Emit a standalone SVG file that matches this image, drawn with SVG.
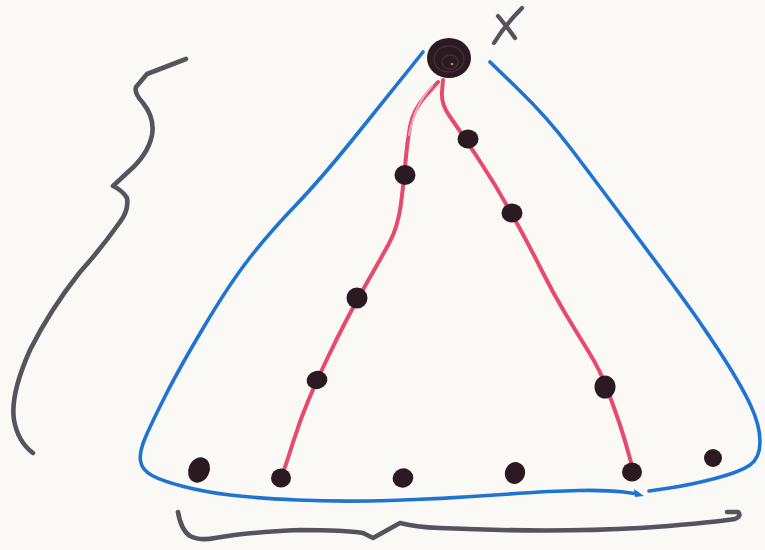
<svg xmlns="http://www.w3.org/2000/svg" width="765" height="550" viewBox="0 0 765 550">
<style>
.blue{fill:none;stroke:#1f74d2;stroke-width:3.6;stroke-linecap:round;stroke-linejoin:round}
.red{fill:none;stroke:#e84a6e;stroke-width:4;stroke-linecap:round;stroke-linejoin:round}
.faint{fill:none;stroke:#f1aabb;stroke-width:2;stroke-linecap:round}
.grey{fill:none;stroke:#58525c;stroke-width:4.6;stroke-linecap:round;stroke-linejoin:round}
.dot{fill:#2c1a22}
.ring{fill:none;stroke:#43303a;stroke-width:1.4}
</style>
<rect width="765" height="550" fill="#faf9f6"/>
<g id="outline">
<path class="blue" d="M423,52 L405,74.5 Q387,97 353.5,138.5 Q320,180 295,206 Q270,232 250,257.5 Q230,283 205,325 Q180,367 166.5,393.5 Q153,420 146,436 Q139,452 140.5,461 Q142,470 152,475.5 Q162,481 183.5,486.5 Q205,492 230,495 Q255,498 297.5,500 Q340,502 390,500.5 Q440,499 495,495 Q550,491 578.5,490.5 Q607,490 623.5,492 L638,494"/>
<polygon points="634,489 644,496 635,497" fill="#1f74d2"/>
<path class="blue" d="M649,491 L669.5,488 Q690,485 715,478.5 Q740,472 750,465 Q760,458 760,441.5 Q760,425 750,404 Q740,383 718.5,350 Q697,317 672,283.5 Q647,250 622,216.5 Q597,183 572,150 Q547,117 518.5,89.5 L490,62"/>
</g>
<g id="braces">
<path class="grey" d="M186,59 L147,74 L136,87 Q134,93 143,103 Q155,118 152,135 Q148,155 128,172 L113,186 Q122,190 127,198 Q129,210 120,222 Q100,250 80,272 Q50,310 30,350 Q10,395 14,420 Q18,442 33,453"/>
<path class="grey" d="M178,512 Q181,530 190,536 Q200,541 215,538 Q250,532 300,530 Q345,530 363,533 L373,538 L400,523 Q415,527 440,528 Q550,533 640,528 Q700,524 735,519 Q742,516 738,512 L727,512"/>
</g>
<g id="x-mark">
<path class="grey" style="stroke-width:4.2" d="M494,43 Q505,25 522,8"/>
<path class="grey" style="stroke-width:4.2" d="M498,16 Q508,28 515,38"/>
</g>
<g id="connectors">
<path class="red" d="M438,82 L425.5,96 Q413,110 410,126.5 Q407,143 405.5,161.5 Q404,180 401,203.5 Q398,227 389,243.5 Q380,260 369,279 Q358,298 347.5,318 Q337,338 327,359 Q317,380 308.5,400 Q300,420 293,442.5 Q286,465 281,478"/>
<path class="faint" d="M432,86 Q415,104 409,135"/>
<path class="red" d="M443,80 L442,92 Q441,104 449.5,116 Q458,128 477.5,157.5 Q497,187 513.5,217 Q530,247 541.5,270 Q553,293 565,313 Q577,333 588.5,351.5 Q600,370 607.5,390 Q615,410 620,425 Q625,440 629,455 L633,470"/>
</g>
<g id="node-root">
<ellipse class="dot" cx="449" cy="58" rx="22" ry="20"/>
<ellipse class="ring" cx="449" cy="59" rx="15" ry="13"/>
<ellipse class="ring" cx="450" cy="62" rx="8" ry="7"/>
<circle cx="452" cy="64" r="1.3" fill="#a8937c"/>
</g>
<g id="node-l1"><ellipse class="dot" cx="405" cy="175" rx="10.5" ry="10"/></g>
<g id="node-l2"><ellipse class="dot" cx="357" cy="298" rx="10.5" ry="10.5"/></g>
<g id="node-l3"><ellipse class="dot" cx="317" cy="380" rx="10.5" ry="9" transform="rotate(-15 317 380)"/></g>
<g id="node-l4"><ellipse class="dot" cx="281" cy="478" rx="10" ry="9.5"/></g>
<g id="node-r1"><ellipse class="dot" cx="468" cy="139" rx="10.5" ry="9.5"/></g>
<g id="node-r2"><ellipse class="dot" cx="512" cy="213" rx="10.5" ry="9.5"/></g>
<g id="node-r3"><ellipse class="dot" cx="605" cy="387" rx="10.5" ry="11.5"/></g>
<g id="node-r4"><ellipse class="dot" cx="632" cy="472" rx="10" ry="9.5"/></g>
<g id="node-b1"><ellipse class="dot" cx="199" cy="470" rx="10.5" ry="13" transform="rotate(25 199 470)"/></g>
<g id="node-b2"><ellipse class="dot" cx="403" cy="478" rx="10.5" ry="9.5" transform="rotate(-20 403 478)"/></g>
<g id="node-b3"><ellipse class="dot" cx="515" cy="473" rx="10" ry="11" transform="rotate(20 515 473)"/></g>
<g id="node-b4"><ellipse class="dot" cx="713" cy="458" rx="9" ry="9"/></g>
</svg>
